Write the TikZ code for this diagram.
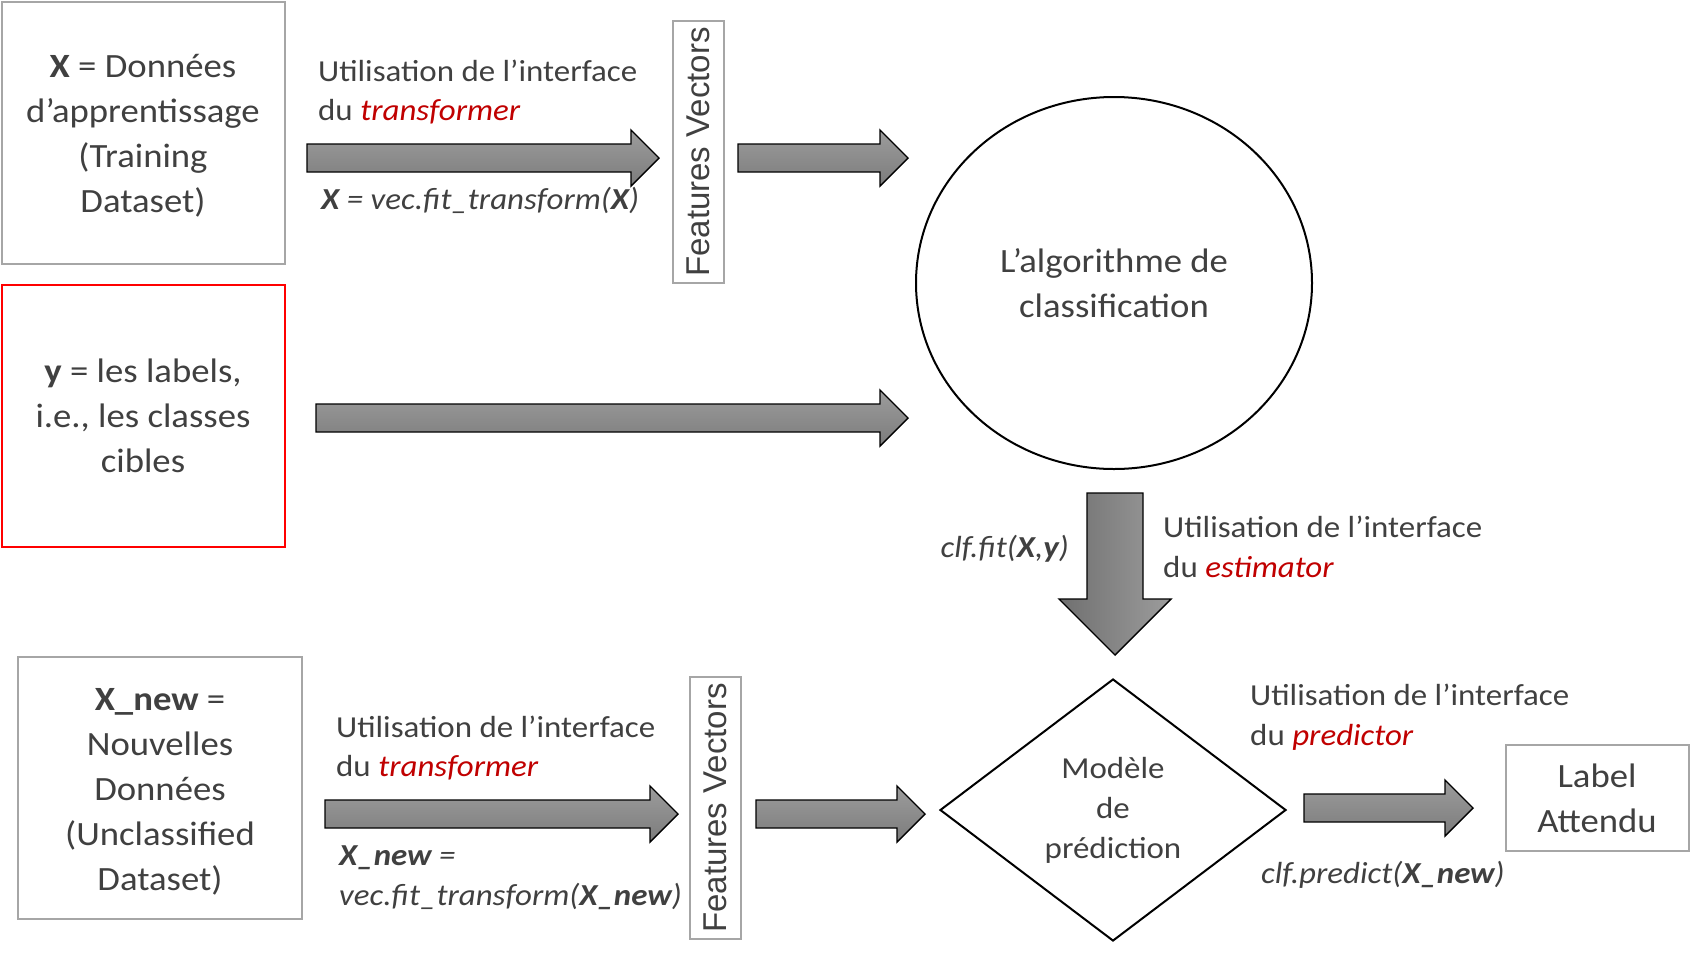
\documentclass[tikz,border=0pt]{standalone}
\usepackage{fontspec}
\setmainfont{Carlito}[FakeStretch=1.08]
\newfontfamily\fvfont{Liberation Sans}
\usetikzlibrary{shapes.geometric,calc}
\definecolor{txt}{RGB}{64,64,64}
\definecolor{boxgray}{RGB}{166,166,166}
\definecolor{redtxt}{RGB}{192,0,0}
\definecolor{redbox}{RGB}{255,0,0}
\definecolor{arlight}{RGB}{156,156,156}
\definecolor{ardark}{RGB}{124,124,124}
\newcommand\rt[1]{\textcolor{redtxt}{\textit{#1}}}
\newcommand\rarrow[2]{%
  \shadedraw[arrowshade,top color=arlight,bottom color=ardark] let \p1=(#1), \p2=(#2) in
  (\x1,\y1+14pt) -- (\x2-28pt,\y1+14pt) -- (\x2-28pt,\y1+28pt) -- (\x2,\y1)
  -- (\x2-28pt,\y1-28pt) -- (\x2-28pt,\y1-14pt) -- (\x1,\y1-14pt) -- cycle;}
\tikzset{
  arrowshade/.style={draw=black,line width=1.4pt,line join=miter},
  databox/.style={draw=boxgray,line width=2pt,rectangle,inner sep=0pt,outer sep=0pt,
    align=center,text=txt,font=\fontsize{34}{45}\selectfont},
  boxtext/.style={inner sep=0pt,align=center,text=txt,font=\fontsize{34}{45}\selectfont},
  fvbox/.style={draw=boxgray,line width=2pt,rectangle,inner sep=0pt,outer sep=0pt,
    minimum width=51pt,minimum height=262pt},
  fvtext/.style={rotate=90,text=txt,font=\fvfont\fontsize{33}{40}\selectfont,inner sep=0pt},
  lbl/.style={anchor=base west,inner sep=0pt,text=txt,font=\fontsize{30.5}{40}\selectfont},
}
\begin{document}
\begin{tikzpicture}[x=1pt,y=-1pt]
\useasboundingbox (0,0) rectangle (1691,959);

% boxes
\node[databox,minimum width=283pt,minimum height=262pt] (xbox) at (143,132.5) {};
\node[boxtext] (xboxtext) at ($(xbox.center)+(0,3.5)$)
  {\textbf{X} = Données\\d’apprentissage\\(Training\\Dataset)};
\node[databox,draw=redbox,minimum width=283pt,minimum height=262pt] (ybox) at (143,415.5)
  {\textbf{y} = les labels,\\i.e., les classes\\cibles};
\node[databox,minimum width=284pt,minimum height=262pt] (xnbox) at (160,788) {};
\node[boxtext] (xnboxtext) at ($(xnbox.center)+(0,4)$)
  {\textbf{X\_new} =\\Nouvelles\\Données\\(Unclassified\\Dataset)};
\node[databox,minimum width=183pt,minimum height=106pt] (lbox) at (1597,798)
  {Label\\Attendu};

% features vectors
\node[fvbox] (fv1) at (698.5,152) {};
\node[fvtext] (fv1t) at (fv1.center) {Features Vectors};
\node[fvbox] (fv2) at (715.5,808) {};
\node[fvtext] (fv2t) at (fv2.center) {Features Vectors};

% algorithm circle
\node[ellipse,draw=black,line width=2pt,minimum width=396pt,minimum height=372pt,
  align=center,text=txt,font=\fontsize{34}{45}\selectfont] (algo) at (1114,283)
  {L’algorithme de\\classification};

% diamond
\node[diamond,draw=black,line width=2pt,minimum width=346pt,minimum height=262pt,inner sep=0pt,
  align=center,text=txt,font=\fontsize{30.5}{40}\selectfont] (model) at (1113,810)
  {Modèle\\de\\prédiction};

% arrow end points
\coordinate (a1s) at (307,158);  \coordinate (a1e) at (659,158);
\coordinate (a2s) at (738,158);  \coordinate (a2e) at (908,158);
\coordinate (ays) at (316,418);  \coordinate (aye) at (908,418);
\coordinate (a3s) at (325,814);  \coordinate (a3e) at (678,814);
\coordinate (a4s) at (756,814);  \coordinate (a4e) at (925,814);
\coordinate (a5s) at (1304,808); \coordinate (a5e) at (1473,808);
\coordinate (ds) at (1115,493);  \coordinate (de) at (1115,655);

\rarrow{a1s}{a1e}
\rarrow{a2s}{a2e}
\rarrow{ays}{aye}
\rarrow{a3s}{a3e}
\rarrow{a4s}{a4e}
\rarrow{a5s}{a5e}
\shadedraw[arrowshade,left color=ardark!90!black,right color=arlight] let \p1=(ds), \p2=(de) in
  (\x1-28pt,\y1) -- (\x1+28pt,\y1) -- (\x1+28pt,\y2+56pt) -- (\x1+56pt,\y2+56pt)
  -- (\x1,\y2) -- (\x1-56pt,\y2+56pt) -- (\x1-28pt,\y2+56pt) -- cycle;

% labels
\node[lbl] (t1a) at (318,81) {Utilisation de l’interface};
\node[lbl] (t1b) at (318,120) {du \rt{transformer}};
\node[lbl] (c1) at (321,209) {\textit{\textbf{X} = vec.fit\_transform(\textbf{X})}};

\node[lbl] (t3a) at (336,737) {Utilisation de l’interface};
\node[lbl] (t3b) at (336,776) {du \rt{transformer}};
\node[lbl] (c3a) at (339,865) {\textit{\textbf{X\_new} =}};
\node[lbl] (c3b) at (339,905) {\textit{vec.fit\_transform(\textbf{X\_new})}};

\node[lbl] (t2a) at (1163,537) {Utilisation de l’interface};
\node[lbl] (t2b) at (1163,577) {du \rt{estimator}};
\node[lbl,anchor=base east] (c2) at (1069,557) {\textit{clf.fit(\textbf{X},\textbf{y})}};

\node[lbl] (t5a) at (1250,705) {Utilisation de l’interface};
\node[lbl] (t5b) at (1250,745) {du \rt{predictor}};
\node[lbl] (c5) at (1261,883) {\textit{clf.predict(\textbf{X\_new})}};
\end{tikzpicture}
\end{document}
